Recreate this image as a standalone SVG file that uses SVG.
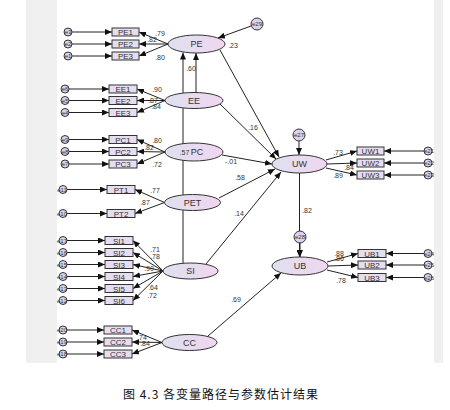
<svg xmlns="http://www.w3.org/2000/svg" width="450" height="410" viewBox="0 0 450 410">
<style>
.lat{fill:url(#eg);stroke:#333;stroke-width:1}
.box{fill:#e6def0;stroke:#333;stroke-width:1}
.err{fill:#dcd2ea;stroke:#333;stroke-width:1}
.ln{stroke:#222;stroke-width:1;fill:none;marker-end:url(#ah)}
.t{font-family:"Liberation Sans",Arial,sans-serif;fill:#333;text-anchor:middle}
.nl{font-size:9px}
.bl{font-size:8px}
.el{font-size:6px}
.pl{font-size:7px}
.cap{font-family:"Noto Sans CJK SC",sans-serif;font-size:12px;fill:#111;text-anchor:middle;letter-spacing:1px}
</style>
<defs>
<linearGradient id="eg" x1="0" x2="1" y1="0" y2="0">
<stop offset="0" stop-color="#dfe0ef"/>
<stop offset="1" stop-color="#f0d6f0"/>
</linearGradient>
<marker id="ah" markerWidth="7" markerHeight="6" refX="7" refY="3" orient="auto" markerUnits="userSpaceOnUse">
<path d="M0,0 L7,3 L0,6 z" fill="#111"/>
</marker>
</defs>
<rect x="26" y="0" width="417" height="363" fill="#f0f0f0"/>
<rect x="57" y="0" width="377" height="363" fill="#ffffff"/>

<g id="connectors">
<line class="ln" x1="168" y1="44" x2="139" y2="32"/>
<line class="ln" x1="168" y1="44" x2="139" y2="44"/>
<line class="ln" x1="168" y1="44" x2="139" y2="56"/>
<line class="ln" x1="72" y1="32" x2="112" y2="32"/>
<line class="ln" x1="72" y1="44" x2="112" y2="44"/>
<line class="ln" x1="72" y1="56" x2="112" y2="56"/>
<line class="ln" x1="165" y1="100.5" x2="137" y2="89"/>
<line class="ln" x1="165" y1="100.5" x2="137" y2="100.5"/>
<line class="ln" x1="165" y1="100.5" x2="137" y2="112.5"/>
<line class="ln" x1="69" y1="89" x2="109" y2="89"/>
<line class="ln" x1="69" y1="100.5" x2="109" y2="100.5"/>
<line class="ln" x1="69" y1="112.5" x2="109" y2="112.5"/>
<line class="ln" x1="165" y1="152" x2="137" y2="139.5"/>
<line class="ln" x1="165" y1="152" x2="137" y2="151.5"/>
<line class="ln" x1="165" y1="152" x2="137" y2="164"/>
<line class="ln" x1="69" y1="139.5" x2="109" y2="139.5"/>
<line class="ln" x1="69" y1="151.5" x2="109" y2="151.5"/>
<line class="ln" x1="69" y1="164" x2="109" y2="164"/>
<line class="ln" x1="164.5" y1="202.5" x2="135" y2="189.5"/>
<line class="ln" x1="164.5" y1="202.5" x2="135" y2="213.5"/>
<line class="ln" x1="67" y1="189.5" x2="107" y2="189.5"/>
<line class="ln" x1="67" y1="213.5" x2="107" y2="213.5"/>
<line class="ln" x1="163" y1="271" x2="133" y2="240.5"/>
<line class="ln" x1="163" y1="271" x2="133" y2="252.5"/>
<line class="ln" x1="163" y1="271" x2="133" y2="264.5"/>
<line class="ln" x1="163" y1="271" x2="133" y2="276.5"/>
<line class="ln" x1="163" y1="271" x2="133" y2="288.5"/>
<line class="ln" x1="163" y1="271" x2="133" y2="300.5"/>
<line class="ln" x1="67" y1="240.5" x2="105" y2="240.5"/>
<line class="ln" x1="67" y1="252.5" x2="105" y2="252.5"/>
<line class="ln" x1="67" y1="264.5" x2="105" y2="264.5"/>
<line class="ln" x1="67" y1="276.5" x2="105" y2="276.5"/>
<line class="ln" x1="67" y1="288.5" x2="105" y2="288.5"/>
<line class="ln" x1="67" y1="300.5" x2="105" y2="300.5"/>
<line class="ln" x1="162" y1="342.5" x2="132" y2="330"/>
<line class="ln" x1="162" y1="342.5" x2="132" y2="342"/>
<line class="ln" x1="162" y1="342.5" x2="132" y2="354"/>
<line class="ln" x1="67" y1="330" x2="104" y2="330"/>
<line class="ln" x1="67" y1="342" x2="104" y2="342"/>
<line class="ln" x1="67" y1="354" x2="104" y2="354"/>
<line class="ln" x1="326" y1="160" x2="357" y2="151"/>
<line class="ln" x1="327" y1="164" x2="357" y2="163"/>
<line class="ln" x1="326" y1="168" x2="357" y2="175"/>
<line class="ln" x1="424" y1="151" x2="384" y2="151"/>
<line class="ln" x1="424" y1="163" x2="384" y2="163"/>
<line class="ln" x1="424" y1="175" x2="384" y2="175"/>
<line class="ln" x1="327" y1="262" x2="358" y2="253.5"/>
<line class="ln" x1="328" y1="266" x2="358" y2="265"/>
<line class="ln" x1="327" y1="270" x2="358" y2="277.5"/>
<line class="ln" x1="424" y1="253.5" x2="386" y2="253.5"/>
<line class="ln" x1="424" y1="265" x2="386" y2="265"/>
<line class="ln" x1="424" y1="277.5" x2="386" y2="277.5"/>
<line class="ln" x1="251" y1="26" x2="218" y2="38"/>
<line class="ln" x1="196" y1="92.5" x2="196" y2="53"/>
<line class="ln" x1="183" y1="263" x2="183" y2="52.5"/>
<line class="ln" x1="220" y1="50" x2="279" y2="157"/>
<line class="ln" x1="220" y1="104" x2="276" y2="159"/>
<line class="ln" x1="222" y1="155" x2="272" y2="164"/>
<line class="ln" x1="219" y1="198" x2="275" y2="169"/>
<line class="ln" x1="206" y1="264" x2="281" y2="172"/>
<line class="ln" x1="299.5" y1="173" x2="299.5" y2="257"/>
<line class="ln" x1="299" y1="141" x2="299" y2="155"/>
<line class="ln" x1="300" y1="243" x2="300" y2="257"/>
<line class="ln" x1="208" y1="336" x2="281" y2="273"/>
</g>

<g id="labels">
<text class="t pl" x="160" y="35.5">.79</text>
<text class="t pl" x="152" y="41.5">.82</text>
<text class="t pl" x="160" y="59.5">.80</text>
<text class="t pl" x="233" y="47.5">.23</text>
<text class="t pl" x="191" y="70.5">.60</text>
<text class="t pl" x="157" y="91.5">.90</text>
<text class="t pl" x="153" y="103">.87</text>
<text class="t pl" x="156" y="108.5">.84</text>
<text class="t pl" x="157" y="142.5">.80</text>
<text class="t pl" x="149" y="149.5">.82</text>
<text class="t pl" x="157" y="166.5">.72</text>
<text class="t pl" x="155" y="192.5">.77</text>
<text class="t pl" x="145" y="204.5">.87</text>
<text class="t pl" x="155" y="251.5">.71</text>
<text class="t pl" x="155" y="258.5">.78</text>
<text class="t pl" x="149" y="270.5">.90</text>
<text class="t pl" x="153" y="289.5">.64</text>
<text class="t pl" x="152" y="297.5">.72</text>
<text class="t pl" x="142" y="339.5">.74</text>
<text class="t pl" x="145" y="346">.84</text>
<text class="t pl" x="231" y="163.5">-.01</text>
<text class="t pl" x="240" y="179.5">.58</text>
<text class="t pl" x="239" y="215.5">.14</text>
<text class="t pl" x="253" y="129.5">.16</text>
<text class="t pl" x="236" y="301.5">.69</text>
<text class="t pl" x="307" y="212.5">.82</text>
<text class="t pl" x="338" y="154.5">.73</text>
<text class="t pl" x="349" y="169.5">.84</text>
<text class="t pl" x="338" y="177.5">.89</text>
<text class="t pl" x="339" y="255.5">.88</text>
<text class="t pl" x="339" y="261">.86</text>
<text class="t pl" x="341" y="282.5">.78</text>
</g>

<g id="PE"><ellipse class="lat" cx="196.5" cy="44" rx="28.5" ry="9"/><text class="t nl" x="196.5" y="47.2">PE</text></g>
<g id="EE"><ellipse class="lat" cx="194" cy="100.5" rx="29" ry="8"/><text class="t nl" x="194" y="103.7">EE</text></g>
<g id="PC"><ellipse class="lat" cx="194" cy="152" rx="29" ry="9"/><text class="t pl" x="184.5" y="155">.57</text><text class="t nl" x="197" y="155.2">PC</text></g>
<g id="PET"><ellipse class="lat" cx="192.5" cy="202.5" rx="28" ry="8"/><text class="t nl" x="192.5" y="205.7">PET</text></g>
<g id="SI"><ellipse class="lat" cx="190.5" cy="271" rx="27.5" ry="8"/><text class="t nl" x="190.5" y="274.2">SI</text></g>
<g id="CC"><ellipse class="lat" cx="189.5" cy="342.5" rx="27.5" ry="8"/><text class="t nl" x="189.5" y="345.7">CC</text></g>
<g id="UW"><ellipse class="lat" cx="299.5" cy="164" rx="27.5" ry="9"/><text class="t nl" x="299.5" y="167.2">UW</text></g>
<g id="UB"><ellipse class="lat" cx="300" cy="266" rx="28" ry="9"/><text class="t nl" x="300" y="269.2">UB</text></g>

<g id="PE1"><rect class="box" x="112" y="28" width="27" height="8"/><text class="t bl" x="125.5" y="35">PE1</text></g>
<g id="PE2"><rect class="box" x="112" y="40" width="27" height="8"/><text class="t bl" x="125.5" y="47">PE2</text></g>
<g id="PE3"><rect class="box" x="112" y="52" width="27" height="8"/><text class="t bl" x="125.5" y="59">PE3</text></g>
<g id="EE1"><rect class="box" x="109" y="85" width="28" height="8"/><text class="t bl" x="123" y="92">EE1</text></g>
<g id="EE2"><rect class="box" x="109" y="96.5" width="28" height="8"/><text class="t bl" x="123" y="103.5">EE2</text></g>
<g id="EE3"><rect class="box" x="109" y="108.5" width="28" height="8"/><text class="t bl" x="123" y="115.5">EE3</text></g>
<g id="PC1"><rect class="box" x="109" y="135.5" width="28" height="8"/><text class="t bl" x="123" y="142.5">PC1</text></g>
<g id="PC2"><rect class="box" x="109" y="147.5" width="28" height="8"/><text class="t bl" x="123" y="154.5">PC2</text></g>
<g id="PC3"><rect class="box" x="109" y="160" width="28" height="8"/><text class="t bl" x="123" y="167">PC3</text></g>
<g id="PT1"><rect class="box" x="107" y="185.5" width="28" height="8"/><text class="t bl" x="121" y="192.5">PT1</text></g>
<g id="PT2"><rect class="box" x="107" y="209.5" width="28" height="8"/><text class="t bl" x="121" y="216.5">PT2</text></g>
<g id="SI1"><rect class="box" x="105" y="236.5" width="28" height="8"/><text class="t bl" x="119" y="243.5">SI1</text></g>
<g id="SI2"><rect class="box" x="105" y="248.5" width="28" height="8"/><text class="t bl" x="119" y="255.5">SI2</text></g>
<g id="SI3"><rect class="box" x="105" y="260.5" width="28" height="8"/><text class="t bl" x="119" y="267.5">SI3</text></g>
<g id="SI4"><rect class="box" x="105" y="272.5" width="28" height="8"/><text class="t bl" x="119" y="279.5">SI4</text></g>
<g id="SI5"><rect class="box" x="105" y="284.5" width="28" height="8"/><text class="t bl" x="119" y="291.5">SI5</text></g>
<g id="SI6"><rect class="box" x="105" y="296.5" width="28" height="8"/><text class="t bl" x="119" y="303.5">SI6</text></g>
<g id="CC1"><rect class="box" x="104" y="326" width="28" height="8"/><text class="t bl" x="118" y="333">CC1</text></g>
<g id="CC2"><rect class="box" x="104" y="338" width="28" height="8"/><text class="t bl" x="118" y="345">CC2</text></g>
<g id="CC3"><rect class="box" x="104" y="350" width="28" height="8"/><text class="t bl" x="118" y="357">CC3</text></g>
<g id="UW1"><rect class="box" x="357" y="147" width="27" height="8"/><text class="t bl" x="370.5" y="154">UW1</text></g>
<g id="UW2"><rect class="box" x="357" y="159" width="27" height="8"/><text class="t bl" x="370.5" y="166">UW2</text></g>
<g id="UW3"><rect class="box" x="357" y="171" width="27" height="8"/><text class="t bl" x="370.5" y="178">UW3</text></g>
<g id="UB1"><rect class="box" x="358" y="249.5" width="28" height="8"/><text class="t bl" x="372" y="256.5">UB1</text></g>
<g id="UB2"><rect class="box" x="358" y="261" width="28" height="8"/><text class="t bl" x="372" y="268">UB2</text></g>
<g id="UB3"><rect class="box" x="358" y="273.5" width="28" height="8"/><text class="t bl" x="372" y="280.5">UB3</text></g>

<g id="e3"><circle class="err" cx="68" cy="32" r="4"/><text class="t el" x="68" y="34">e3</text></g>
<g id="e2"><circle class="err" cx="68" cy="44" r="4"/><text class="t el" x="68" y="46">e2</text></g>
<g id="e1"><circle class="err" cx="68" cy="56" r="4"/><text class="t el" x="68" y="58">e1</text></g>
<g id="e6"><circle class="err" cx="65" cy="89" r="4"/><text class="t el" x="65" y="91">e6</text></g>
<g id="e5"><circle class="err" cx="65" cy="100.5" r="4"/><text class="t el" x="65" y="102.5">e5</text></g>
<g id="e4"><circle class="err" cx="65" cy="112.5" r="4"/><text class="t el" x="65" y="114.5">e4</text></g>
<g id="e9"><circle class="err" cx="65" cy="139.5" r="4"/><text class="t el" x="65" y="141.5">e9</text></g>
<g id="e8"><circle class="err" cx="65" cy="151.5" r="4"/><text class="t el" x="65" y="153.5">e8</text></g>
<g id="e7"><circle class="err" cx="65" cy="164" r="4"/><text class="t el" x="65" y="166">e7</text></g>
<g id="e11"><circle class="err" cx="63" cy="189.5" r="4"/><text class="t el" x="62" y="191.5">e11</text></g>
<g id="e10"><circle class="err" cx="63" cy="213.5" r="4"/><text class="t el" x="62" y="215.5">e10</text></g>
<g id="e17"><circle class="err" cx="63" cy="240.5" r="4"/><text class="t el" x="62" y="242.5">e17</text></g>
<g id="e16"><circle class="err" cx="63" cy="252.5" r="4"/><text class="t el" x="62" y="254.5">e16</text></g>
<g id="e15"><circle class="err" cx="63" cy="264.5" r="4"/><text class="t el" x="62" y="266.5">e15</text></g>
<g id="e14"><circle class="err" cx="63" cy="276.5" r="4"/><text class="t el" x="62" y="278.5">e14</text></g>
<g id="e13"><circle class="err" cx="63" cy="288.5" r="4"/><text class="t el" x="62" y="290.5">e13</text></g>
<g id="e12"><circle class="err" cx="63" cy="300.5" r="4"/><text class="t el" x="62" y="302.5">e12</text></g>
<g id="e20"><circle class="err" cx="63" cy="330" r="4"/><text class="t el" x="62" y="332">e20</text></g>
<g id="e19"><circle class="err" cx="63" cy="342" r="4"/><text class="t el" x="62" y="344">e19</text></g>
<g id="e18"><circle class="err" cx="63" cy="354" r="4"/><text class="t el" x="62" y="356">e18</text></g>
<g id="e21"><circle class="err" cx="428" cy="151" r="4"/><text class="t el" x="429" y="153">e21</text></g>
<g id="e22"><circle class="err" cx="428" cy="163" r="4"/><text class="t el" x="429" y="165">e22</text></g>
<g id="e23"><circle class="err" cx="428" cy="175" r="4"/><text class="t el" x="429" y="177">e23</text></g>
<g id="e24"><circle class="err" cx="428" cy="253.5" r="4"/><text class="t el" x="429" y="255.5">e24</text></g>
<g id="e25"><circle class="err" cx="428" cy="265" r="4"/><text class="t el" x="429" y="267">e25</text></g>
<g id="e26"><circle class="err" cx="428" cy="277.5" r="4"/><text class="t el" x="429" y="279.5">e26</text></g>
<g id="e29"><circle class="err" cx="257" cy="24" r="6"/><text class="t el" x="257" y="26">e29</text></g>
<g id="e27"><circle class="err" cx="299" cy="135" r="6"/><text class="t el" x="299" y="137">e27</text></g>
<g id="e28"><circle class="err" cx="300" cy="237" r="6"/><text class="t el" x="300" y="239">e28</text></g>

<text class="cap" x="221" y="399" xml:space="preserve">图 4.3 各变量路径与参数估计结果</text>
</svg>
